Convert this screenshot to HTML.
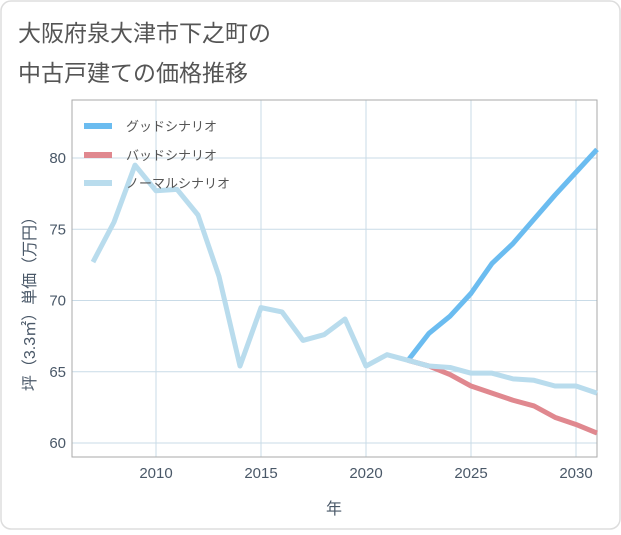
<!DOCTYPE html>
<html><head><meta charset="utf-8"><style>
body{margin:0;background:#fff;font-family:"Liberation Sans","Noto Sans CJK JP",sans-serif;}
</style></head><body>
<svg width="621" height="530" xmlns="http://www.w3.org/2000/svg" font-family="Liberation Sans, Noto Sans CJK JP, sans-serif">
<rect x="1" y="1" width="619" height="528" rx="10" fill="#fff" stroke="#ddd" stroke-width="1.5"/>
<text x="18" y="41" font-size="23" fill="#555">大阪府泉大津市下之町の</text>
<text x="18" y="81" font-size="23" fill="#555">中古戸建ての価格推移</text>
<g id="grid"></g>
<rect x="72" y="100" width="525" height="357" fill="none" stroke="#aaa" stroke-width="1"/>
<g id="series"></g>
<g id="ticks"></g>
<text x="334" y="514" font-size="16" fill="#4a5868" text-anchor="middle">年</text>
<text transform="translate(35,300) rotate(-90)" font-size="16" fill="#4a5868" text-anchor="middle">坪（3.3㎡）単価（万円）</text>
<g>
<line x1="84" y1="126" x2="112" y2="126" stroke="#6bbcf0" stroke-width="6"/>
<text x="126" y="131" font-size="13" fill="#555">グッドシナリオ</text>
<line x1="84" y1="155" x2="112" y2="155" stroke="#e0888f" stroke-width="6"/>
<text x="126" y="160" font-size="13" fill="#555">バッドシナリオ</text>
<line x1="84" y1="183" x2="112" y2="183" stroke="#b9dced" stroke-width="6"/>
<text x="126" y="188" font-size="13" fill="#555">ノーマルシナリオ</text>
</g>
</svg>
<script>
const years=[2007,2008,2009,2010,2011,2012,2013,2014,2015,2016,2017,2018,2019,2020,2021,2022,2023,2024,2025,2026,2027,2028,2029,2030,2031];
const normal=[72.7,75.5,79.5,77.7,77.8,76,71.7,65.4,69.5,69.2,67.2,67.6,68.7,65.4,66.2,65.8,65.4,65.3,64.9,64.9,64.5,64.4,64.0,64.0,63.5];
const futureYears=[2022,2023,2024,2025,2026,2027,2028,2029,2030,2031];
const good=[65.8,67.7,68.9,70.5,72.6,74.0,75.7,77.4,79.0,80.6];
const bad=[65.8,65.4,64.8,64.0,63.5,63.0,62.6,61.8,61.3,60.7];
const xTicks=[2010,2015,2020,2025,2030];
const yTicks=[60,65,70,75,80];
const NS='http://www.w3.org/2000/svg';
const X=v=>72+(v-2006)*21;
const Y=v=>158-(v-80)*14.25;
function mk(t,a,p){const e=document.createElementNS(NS,t);for(const k in a)e.setAttribute(k,a[k]);p.appendChild(e);return e;}
const g=document.getElementById('grid'),tk=document.getElementById('ticks'),s=document.getElementById('series');
xTicks.forEach(v=>{const l=mk('line',{x1:X(v),x2:X(v),y1:100,y2:457,stroke:'#c9dbe7'},g);

const t=mk('text',{x:X(v),y:478,'font-size':15,fill:'#4a5868','text-anchor':'middle'},tk);t.textContent=v;
});
yTicks.forEach(v=>{const l=mk('line',{x1:72,x2:597,y1:Y(v),y2:Y(v),stroke:'#c9dbe7'},g);

const t=mk('text',{x:66,y:Y(v)+5,'font-size':15,fill:'#4a5868','text-anchor':'end'},tk);t.textContent=v;
});
function line(xs,ys,c,n){const p=mk('polyline',{points:xs.map((x,i)=>X(x)+','+Y(ys[i])).join(' '),fill:'none',stroke:c,'stroke-width':5,'stroke-linejoin':'round'},s);
}
line(futureYears,good,'#6bbcf0','good-scenario-line');
line(futureYears,bad,'#e0888f','bad-scenario-line');
line(years,normal,'#b9dced','normal-scenario-line');
</script>
</body></html>
